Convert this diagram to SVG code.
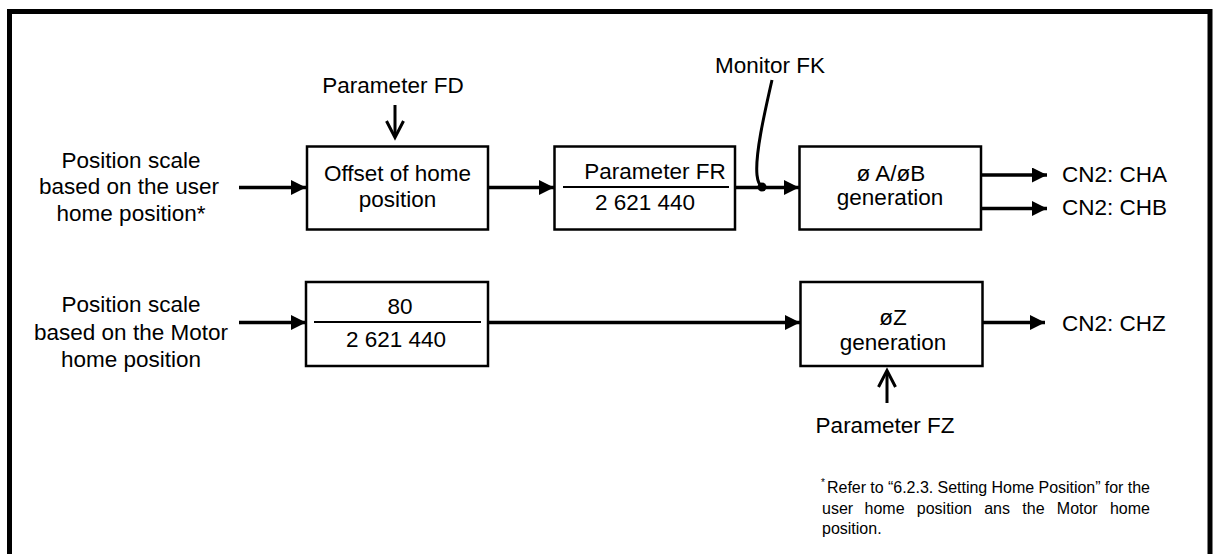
<svg xmlns="http://www.w3.org/2000/svg" width="1214" height="554" viewBox="0 0 1214 554">
<style>
text{font-family:"Liberation Sans",Arial,sans-serif;font-size:22.5px;fill:#000}
.c{text-anchor:middle}
.box{fill:#fff;stroke:#000;stroke-width:2.5}
.ln{fill:none;stroke:#000;stroke-width:3.5}
.thin{fill:none;stroke:#000;stroke-width:2}
.open{fill:none;stroke:#000;stroke-width:3}
.fn{font-size:16px}
</style>
<defs>
<marker id="ah" markerUnits="userSpaceOnUse" markerWidth="16" markerHeight="16" refX="15" refY="7.5" orient="auto" viewBox="0 0 16 16">
<path d="M0,0 L15,7.5 L0,15 z" fill="#000"/>
</marker>
</defs>
<rect x="9.5" y="11.5" width="1200.5" height="600" fill="none" stroke="#000" stroke-width="5"/>

<g id="connectors">
<line class="ln" x1="239" y1="187.5" x2="306" y2="187.5" marker-end="url(#ah)"/>
<line class="ln" x1="488" y1="187.5" x2="554" y2="187.5" marker-end="url(#ah)"/>
<line class="ln" x1="735" y1="187.5" x2="799" y2="187.5" marker-end="url(#ah)"/>
<circle cx="762" cy="187" r="4.5" fill="#000"/>
<path class="ln" d="M772,80 C764,115 755,155 757,175 Q758,184 762,187" style="stroke-width:3"/>
<line class="ln" x1="981" y1="175" x2="1047" y2="175" marker-end="url(#ah)"/>
<line class="ln" x1="981" y1="208.5" x2="1047" y2="208.5" marker-end="url(#ah)"/>
<line class="ln" x1="239" y1="322.5" x2="306" y2="322.5" marker-end="url(#ah)"/>
<line class="ln" x1="488" y1="322.5" x2="800" y2="322.5" marker-end="url(#ah)"/>
<line class="ln" x1="983" y1="322.5" x2="1045" y2="322.5" marker-end="url(#ah)"/>
<line class="open" x1="395" y1="105" x2="395" y2="137"/>
<polyline class="open" points="386.5,121 395,137.5 403.5,121"/>
<line class="open" x1="887" y1="403" x2="887" y2="371"/>
<polyline class="open" points="878.5,387 887,370.5 895.5,387"/>
</g>

<g id="label-fd"><text class="c" x="393" y="93">Parameter FD</text></g>
<g id="label-fk"><text class="c" x="770" y="73">Monitor FK</text></g>
<g id="input-user">
<text class="c" x="131" y="167.5">Position scale</text>
<text class="c" x="129" y="194">based on the user</text>
<text class="c" x="131" y="221">home position*</text>
</g>
<g id="offset">
<rect class="box" x="307" y="146.5" width="181" height="83"/>
<text class="c" x="397.5" y="181">Offset of home</text>
<text class="c" x="397.5" y="207">position</text>
</g>
<g id="fr">
<rect class="box" x="554.5" y="146.5" width="180.5" height="83"/>
<text class="c" x="655" y="179">Parameter FR</text>
<line class="thin" x1="563" y1="187" x2="729" y2="187"/>
<text class="c" x="645" y="210">2 621 440</text>
</g>
<g id="ab-gen">
<rect class="box" x="799.5" y="146.5" width="181.5" height="83"/>
<text class="c" x="891" y="181">ø A/øB</text>
<text class="c" x="890" y="205">generation</text>
</g>
<g id="out-cha"><text x="1062" y="182">CN2: CHA</text></g>
<g id="out-chb"><text x="1062" y="214.5">CN2: CHB</text></g>
<g id="input-motor">
<text class="c" x="131" y="312">Position scale</text>
<text class="c" x="131" y="339.5">based on the Motor</text>
<text class="c" x="131" y="367">home position</text>
</g>
<g id="ratio80">
<rect class="box" x="306" y="282" width="182" height="84"/>
<text class="c" x="400" y="314">80</text>
<line class="thin" x1="314" y1="322" x2="481" y2="322"/>
<text class="c" x="396" y="347">2 621 440</text>
</g>
<g id="z-gen">
<rect class="box" x="800.5" y="282" width="182" height="84"/>
<text class="c" x="893" y="324.5">øZ</text>
<text class="c" x="893" y="349.5">generation</text>
</g>
<g id="out-chz"><text x="1062" y="331">CN2: CHZ</text></g>
<g id="label-fz"><text class="c" x="885" y="433">Parameter FZ</text></g>
<g id="footnote">
<text class="fn" x="821" y="486" style="font-size:10px">*</text>
<text class="fn" x="827" y="493" textLength="323" lengthAdjust="spacing">Refer to “6.2.3. Setting Home Position” for the</text>
<text class="fn" y="513.5"><tspan x="822">user</tspan><tspan x="864.5">home</tspan><tspan x="916.8">position</tspan><tspan x="984.2">ans</tspan><tspan x="1022.3">the</tspan><tspan x="1056.8">Motor</tspan></text>
<text class="fn" x="1150" y="513.5" text-anchor="end">home</text>
<text class="fn" x="822" y="534">position.</text>
</g>
</svg>
